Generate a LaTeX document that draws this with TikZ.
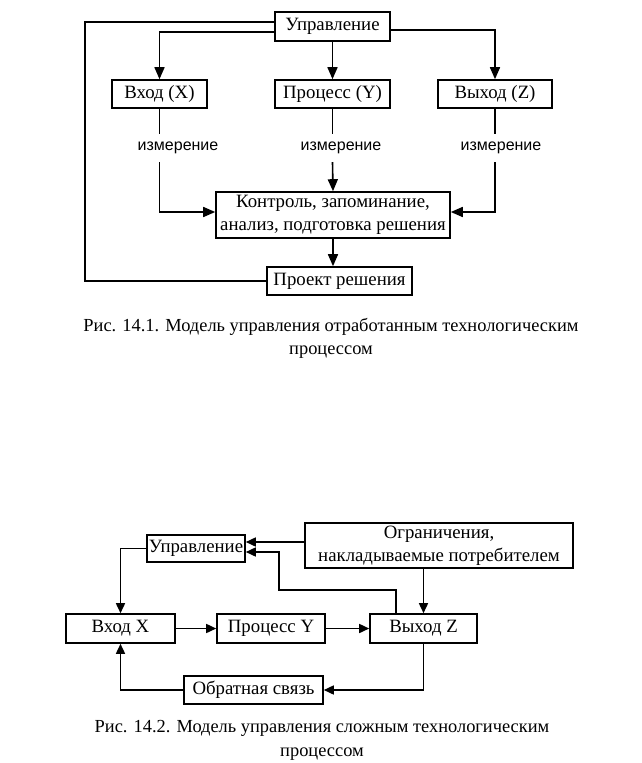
\documentclass[tikz,border=0pt]{standalone}
\usepackage{fontspec}
\setmainfont{Liberation Serif}
\newfontfamily\lblfont{Liberation Sans}
\usetikzlibrary{arrows.meta}
\begin{document}
\begin{tikzpicture}[x=1pt,y=-1pt,
  box/.style={draw,line width=1.6pt,inner sep=0pt,align=center,font=\fontsize{18.8}{20}\selectfont},
  meas/.style={inner sep=0pt,minimum height=28pt,font=\lblfont\fontsize{16}{18}\selectfont},
  ln/.style={line width=1.6pt},
  arr/.style={line width=1.6pt,-{Triangle[length=12pt,width=10pt]}},
  arrb/.style={line width=1.6pt,-{Triangle[length=10pt,width=9pt]}},
  captxt/.style={align=center,inner sep=0pt,font=\fontsize{18.4}{23.5}\selectfont}]
\useasboundingbox (0,0) rectangle (642,763);
% ---------- Figure 14.1 ----------
\node[box,minimum width=115pt,minimum height=29pt] (upr1) at (332.5,26.5) {Управление};
\node[box,minimum width=95pt,minimum height=28pt] (vx) at (159.5,94) {Вход (X)};
\node[box,minimum width=115pt,minimum height=28pt] (pr) at (332.5,94) {Процесс (Y)};
\node[box,minimum width=114pt,minimum height=28pt] (vy) at (495,94) {Выход (Z)};
\node[meas] (m1) at (178,148) {измерение};
\node[meas] (m2) at (341,148) {измерение};
\node[meas] (m3) at (501,148) {измерение};
\node[box,minimum width=234pt,minimum height=46pt,font=\fontsize{18.8}{23}\selectfont] (ktrl) at (333,215) {Контроль, запоминание,\\анализ, подготовка решения};
\node[box,minimum width=145pt,minimum height=28pt] (proj) at (339.5,281) {Проект решения};
\coordinate (L) at (85,22);
\draw[ln] ([yshift=4.5pt]upr1.west) -- (L) |- (proj.west);
\draw[arr] ([yshift=-5.5pt]upr1.west) -| (vx.north);
\draw[arr] ([yshift=-3.5pt]upr1.east) -| (vy.north);
\draw[arr] (upr1.south) -- (pr.north);
\draw[ln] (vx.south) -- (vx.south |- m1.north);
\draw[ln] (pr.south) -- (pr.south |- m2.north);
\draw[ln] (vy.south) -- (vy.south |- m3.north);
\draw[arr] (vx.south |- m1.south) |- ([yshift=3pt]ktrl.west);
\draw[arr] (pr.south |- m2.south) -- (ktrl.north);
\draw[arr] (vy.south |- m3.south) |- ([yshift=3pt]ktrl.east);
\draw[arr] (ktrl.south) -- (ktrl.south |- proj.north);
\node[captxt] (cap1) at (331,338.5) {Рис. 14.1. Модель управления отработанным технологическим\\процессом};
% ---------- Figure 14.2 ----------
\node[box,minimum width=98pt,minimum height=27pt] (upr2) at (196,548.5) {Управление};
\node[box,minimum width=268pt,minimum height=45pt,font=\fontsize{18.8}{23}\selectfont] (ogr) at (439,545.5) {Ограничения,\\накладываемые потребителем};
\node[box,minimum width=109pt,minimum height=29pt] (vx2) at (120.5,628.5) {Вход X};
\node[box,minimum width=108pt,minimum height=29pt] (pr2) at (271,628.5) {Процесс Y};
\node[box,minimum width=107pt,minimum height=29pt] (vz2) at (423.5,628.5) {Выход Z};
\node[box,minimum width=139pt,minimum height=28pt] (ob) at (253.5,690) {Обратная связь};
\coordinate (c1) at (279,590);
\draw[arrb] ([yshift=3.5pt]ogr.west) -- ([yshift=3.5pt]ogr.west -| upr2.east);
\draw[arrb] ([xshift=-27.5pt]vz2.north) |- (c1) |- ([yshift=-3.5pt]upr2.east);
\draw[arrb] (vz2.north |- ogr.south) -- (vz2.north);
\draw[arrb] (upr2.west) -| (vx2.north);
\draw[arrb] (vx2.east) -- (pr2.west);
\draw[arrb] (pr2.east) -- (vz2.west);
\draw[arrb] (vz2.south) |- (ob.east);
\draw[arrb] (ob.west) -| (vx2.south);
\node[captxt] (cap2) at (322,740.5) {Рис. 14.2. Модель управления сложным технологическим\\процессом};
\end{tikzpicture}
\end{document}
